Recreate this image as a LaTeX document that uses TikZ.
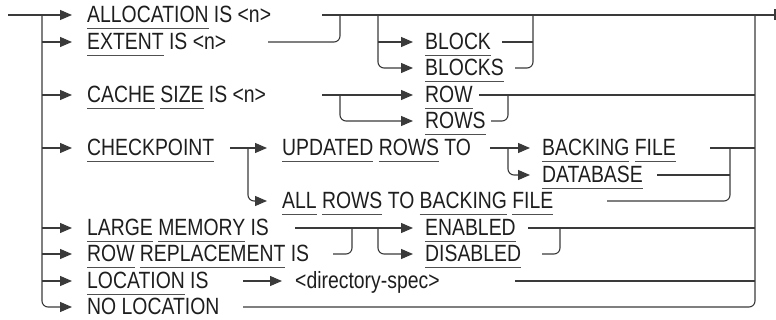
\documentclass[tikz,border=0pt]{standalone}
\usepackage{fontspec}
\setmainfont{Liberation Sans}[FakeStretch=0.825]
\usetikzlibrary{arrows.meta}
\definecolor{ln}{HTML}{3A3A3A}
\definecolor{tx}{HTML}{1E1E1E}
\definecolor{ulc}{HTML}{505050}
\newcommand\kw[1]{\setbox0\hbox{#1}\rlap{\textcolor{ulc}{\rule[-6.8pt]{\wd0}{0.9pt}}}\box0\relax}
\begin{document}
\begin{tikzpicture}[x=1pt,y=-1pt,
  t/.style={anchor=base west,inner sep=0pt,text=tx,font=\fontsize{23.5}{28}\selectfont},
  wire/.style={draw=ln,line width=1.1pt},
  arr/.style={wire,-{Triangle[length=12pt,width=10pt]}},
  rc/.style={rounded corners=6pt}]
\useasboundingbox (0,0) rectangle (776,320);
% texts
\node[t] (alloc) at (87,22.5) {\kw{ALLOCATION} IS <n>};
\node[t] (ext) at (87,49.5) {\kw{EXTENT} IS <n>};
\node[t] (cache) at (87,102.5) {\kw{CACHE} \kw{SIZE} IS <n>};
\node[t] (chk) at (87,155.5) {\kw{CHECKPOINT}};
\node[t] (large) at (87,235.5) {\kw{LARGE} \kw{MEMORY} IS};
\node[t] (repl) at (87,261.5) {\kw{ROW} \kw{REPLACEMENT} IS};
\node[t] (loc) at (87,288.5) {\kw{LOCATION} IS};
\node[t] (noloc) at (87,314.5) {NO LOCATION};
\node[t] (block) at (425,49.5) {\kw{BLOCK}};
\node[t] (blocks) at (425,75.5) {\kw{BLOCKS}};
\node[t] (row) at (425,102.5) {\kw{ROW}};
\node[t] (rows) at (425,128.5) {\kw{ROWS}};
\node[t] (upd) at (282,155.5) {\kw{UPDATED} \kw{ROWS} TO};
\node[t] (all) at (282,208.5) {\kw{ALL} \kw{ROWS} TO \kw{BACKING} \kw{FILE}};
\node[t] (bf) at (542,155.5) {\kw{BACKING} \kw{FILE}};
\node[t] (db) at (542,182.5) {\kw{DATABASE}};
\node[t] (en) at (425,235.5) {\kw{ENABLED}};
\node[t] (dis) at (425,261.5) {\kw{DISABLED}};
\node[t] (dir) at (295,288.5) {<directory-spec>};
% junction coordinates
\coordinate (start) at (8,15);
\coordinate (lt) at (42,15);
\coordinate (rt) at (755,15);
\coordinate (stop) at (775,15);
% left trunk
\draw[arr] (start) -- (72,15);
\draw[arr,rc] (lt) -- (42,307) -- (72,307);
\foreach \y in {42,95,148,228,254,281} \draw[arr] (42,\y) -- (72,\y);
% main line and end bar
\draw[wire] (322,15) -- (stop);
\draw[draw=ln,line width=2pt] (775,9.5) -- (775,20.5);
% extent join
\draw[wire,rc] (268,42) -- (340,42) -- (340,15);
% block(s)
\draw[arr,rc] (378,15) -- (378,68) -- (413,68);
\draw[arr] (378,42) -- (413,42);
\draw[wire] (502,42) -- (533,42);
\draw[wire,rc] (515,68) -- (533,68) -- (533,15);
% cache
\draw[arr] (322,95) -- (413,95);
\draw[arr,rc] (340,95) -- (340,121) -- (413,121);
\draw[wire] (479,95) -- (755,95);
\draw[wire,rc] (491,121) -- (508,121) -- (508,95);
% right trunk
\draw[wire,rc] (243,307) -- (755,307) -- (rt);
% checkpoint
\draw[arr] (230,148) -- (267,148);
\draw[arr,rc] (248,148) -- (248,201) -- (267,201);
\draw[arr] (490,148) -- (530,148);
\draw[arr,rc] (508,148) -- (508,175) -- (530,175);
\draw[wire] (710,148) -- (755,148);
\draw[wire] (657,175) -- (730,175);
\draw[wire,rc] (607,201) -- (730,201) -- (730,148);
% memory / replacement
\draw[arr] (295,228) -- (413,228);
\draw[wire,rc] (333,254) -- (352,254) -- (352,228);
\draw[arr,rc] (378,228) -- (378,254) -- (413,254);
\draw[wire] (528,228) -- (755,228);
\draw[wire,rc] (542,254) -- (560,254) -- (560,228);
% location
\draw[arr] (243,281) -- (282,281);
\draw[wire] (515,281) -- (755,281);
\end{tikzpicture}
\end{document}
